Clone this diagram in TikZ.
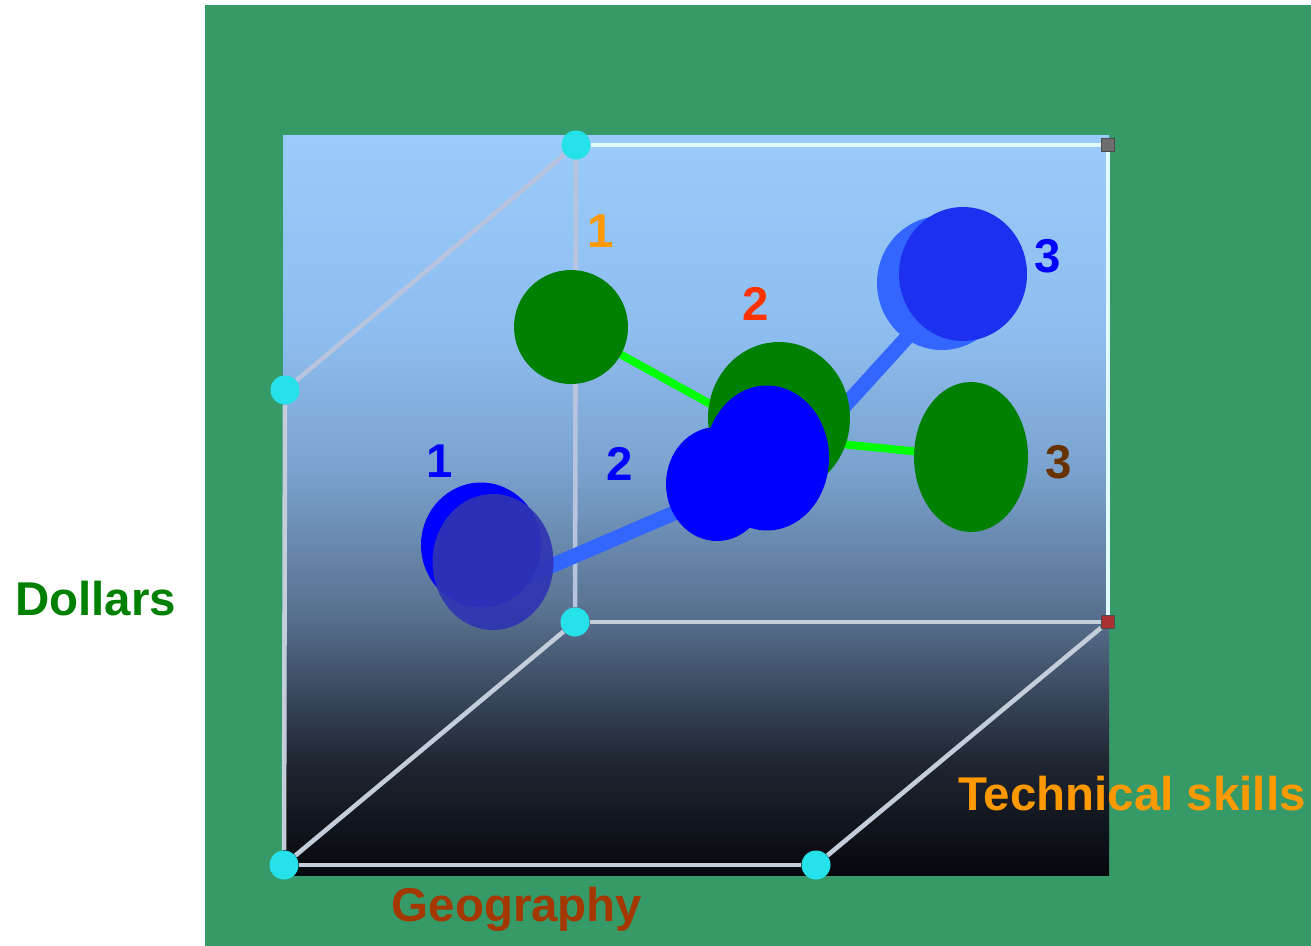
\documentclass[tikz,border=0pt]{standalone}
\usepackage{fontspec}
\setmainfont{Liberation Sans}
\usetikzlibrary{shapes.geometric}
\pgfdeclarelayer{bglayer}
\pgfdeclarelayer{linelayer}
\pgfsetlayers{bglayer,linelayer,main}
\definecolor{bggreen}{RGB}{53,153,104}
\definecolor{pA}{RGB}{155,203,250}
\definecolor{pB}{RGB}{142,190,240}
\definecolor{pC}{RGB}{122,162,206}
\definecolor{pD}{RGB}{86,110,140}
\definecolor{pE}{RGB}{32,38,50}
\definecolor{pF}{RGB}{5,8,12}
\definecolor{edgebright}{RGB}{225,250,250}
\definecolor{edgegray}{RGB}{196,206,218}
\definecolor{edgefaint}{RGB}{184,196,222}
\definecolor{dotcyan}{RGB}{37,226,234}
\definecolor{ballgreen}{RGB}{0,128,0}
\definecolor{linkgreen}{RGB}{0,255,0}
\definecolor{linkblue}{RGB}{51,102,255}
\definecolor{ballblue}{RGB}{0,0,255}
\definecolor{navyhatch}{RGB}{48,52,178}
\definecolor{bluehatch}{RGB}{28,48,240}
\definecolor{lblorange}{RGB}{255,153,0}
\definecolor{lblred}{RGB}{255,51,0}
\definecolor{lblbrown}{RGB}{102,51,0}
\definecolor{geobrown}{RGB}{165,55,0}
\definecolor{sqgray}{RGB}{110,110,110}
\definecolor{sqred}{RGB}{170,50,50}
\begin{document}
\begin{tikzpicture}[x=0.02cm,y=-0.02cm,
  dotnode/.style={circle,fill=dotcyan,inner sep=0pt,minimum size=0.58cm},
  sqnode/.style={rectangle,draw=black!70,line width=0.6pt,inner sep=0pt,minimum size=0.26cm},
  ball/.style={ellipse,inner sep=0pt},
  edge/.style={line width=2.6pt,edgegray},
  edgeb/.style={line width=2.6pt,edgebright},
  edgef/.style={line width=2.6pt,edgefaint},
  glink/.style={line width=4.5pt,linkgreen},
  blink/.style={line width=8.5pt,linkblue},
  lbl/.style={font=\fontsize{27}{30}\selectfont\bfseries,anchor=base,inner sep=0pt}]
\useasboundingbox (0,0) rectangle (1311,946);
\begin{pgfonlayer}{bglayer}
  \fill[white] (0,0) rectangle (1311,946);
  \fill[bggreen] (205,5) rectangle (1311,946);
  \shade[top color=pA,bottom color=pB] (283,135) rectangle (1109,331);
  \shade[top color=pB,bottom color=pC] (283,330) rectangle (1109,471);
  \shade[top color=pC,bottom color=pD] (283,470) rectangle (1109,621);
  \shade[top color=pD,bottom color=pE] (283,620) rectangle (1109,761);
  \shade[top color=pE,bottom color=pF] (283,760) rectangle (1109,875);
\end{pgfonlayer}
% cube corners
\node[dotnode] (cTB) at (576,145) {};
\node[dotnode] (cL) at (285,390) {};
\node[dotnode] (cBB) at (575,622) {};
\node[dotnode] (cFL) at (284,865) {};
\node[dotnode] (cFR) at (816,865) {};
\node[sqnode,fill=sqgray] (sq1) at (1108,145) {};
\node[sqnode,fill=sqred] (sq2) at (1108,622) {};
% balls
\node[ball,fill=ballgreen,minimum width=2.28cm,minimum height=2.28cm] (g1) at (571,327) {};
\node[ball,fill=ballgreen,minimum width=2.84cm,minimum height=3.04cm] (g2) at (779,418) {};
\node[ball,fill=ballgreen,minimum width=2.28cm,minimum height=3.0cm] (g3) at (971,457) {};
\node[ball,fill=ballblue,minimum width=2.4cm,minimum height=2.5cm] (b1) at (481,545) {};
\node[ball,fill=navyhatch,fill opacity=0.92,minimum width=2.42cm,minimum height=2.72cm] (b1o) at (493,562) {};
\node[ball,fill=ballblue,minimum width=2.04cm,minimum height=2.28cm] (b2a) at (717,484) {};
\node[ball,fill=ballblue,minimum width=2.48cm,minimum height=2.9cm] (b2b) at (767,458) {};
\node[ball,fill=linkblue,minimum width=2.6cm,minimum height=2.68cm] (b3) at (942,283) {};
\node[ball,fill=bluehatch,minimum width=2.56cm,minimum height=2.68cm] (b3o) at (963,274) {};
% junction coordinates
\coordinate (g2j) at (770,437);
\coordinate (b1j) at (500,588);
\coordinate (b2j) at (760,476);
\coordinate (b2k) at (800,455);
\coordinate (b3j) at (950,290);
\begin{pgfonlayer}{linelayer}
  \draw[edgeb] (cTB) -- (sq1);
  \draw[edgeb] (sq1) -- (sq2);
  \draw[edgef] (cTB) -- (cL);
  \draw[edgef] (cTB) -- (cBB);
  \draw[edge] (cBB) -- (sq2);
  \draw[edge] (cL) -- (cFL);
  \draw[edge] (cFL) -- (cFR);
  \draw[edge] (cFL) -- (cBB);
  \draw[edge] (cFR) -- (sq2);
  \draw[glink] (g1.center) -- (g2j);
  \draw[glink] (g2j) -- (g3.center);
  \draw[blink] (b1j) -- (b2j);
  \draw[blink] (b2k) -- (b3j);
\end{pgfonlayer}
% labels
\node[lbl,text=lblorange] (l1) at (601,247) {1};
\node[lbl,text=lblred] (l2) at (756,320) {2};
\node[lbl,text=ballblue] (l3) at (1048,272) {3};
\node[lbl,text=lblbrown] (l4) at (1059,478) {3};
\node[lbl,text=ballblue] (l5) at (440,477) {1};
\node[lbl,text=ballblue] (l6) at (620,480) {2};
\node[lbl,text=ballgreen] (dol) at (95.5,615) {Dollars};
\node[lbl,text=lblorange] (tech) at (1132,810) {Technical skills};
\node[lbl,text=geobrown] (geo) at (517,921) {Geography};
\end{tikzpicture}
\end{document}
